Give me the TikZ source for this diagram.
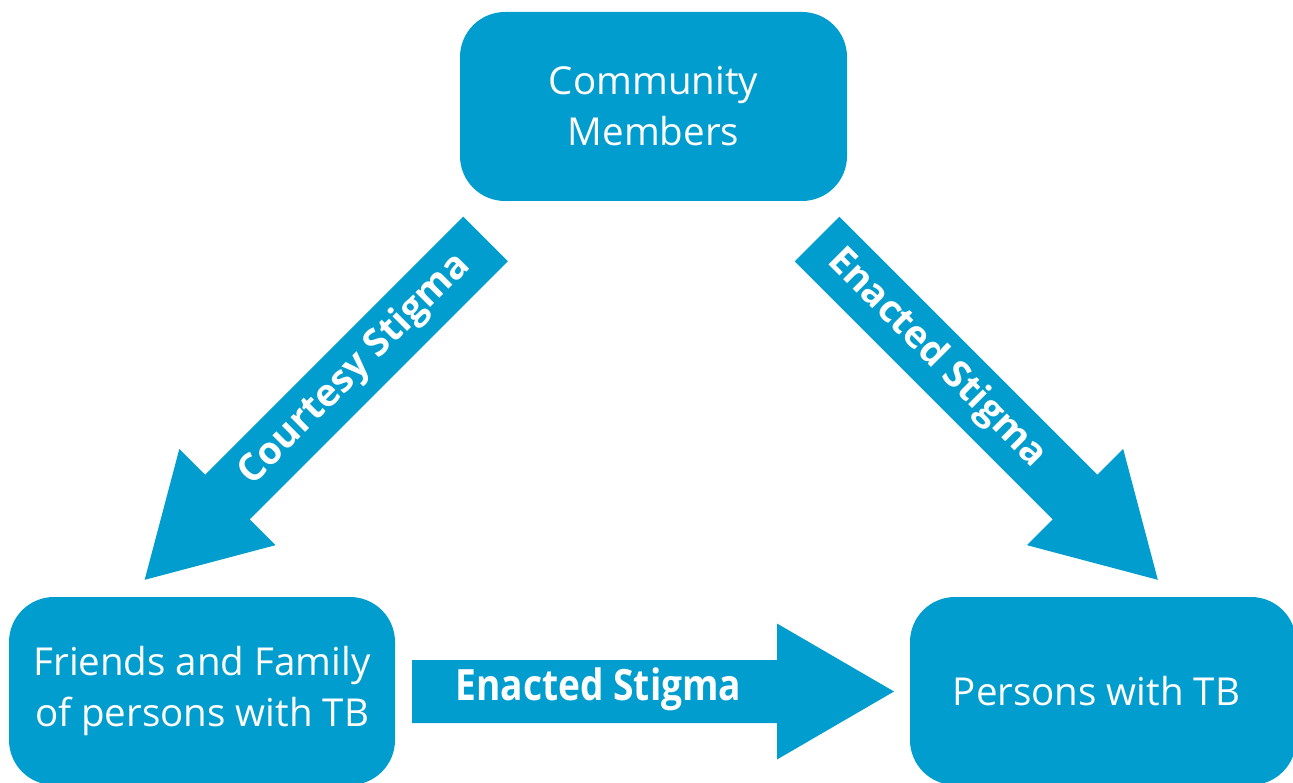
\documentclass[tikz,border=0pt]{standalone}
\usepackage{fontspec}
\setmainfont{Open Sans}
\definecolor{tbblue}{RGB}{0,157,206}
\tikzset{
  box/.style={fill=tbblue, rounded corners=45pt, inner sep=0pt, align=center,
    text=white, font=\fontsize{38.5}{51}\selectfont},
  arrowlabel/.style={text=white, inner sep=0pt, font=\bfseries\fontsize{38}{40}\selectfont},
  blockarrow/.pic={
    \fill[tbblue] (0,-31.5) -- (365,-31.5) -- (365,-68) -- (482,0) -- (365,68)
      -- (365,31.5) -- (0,31.5) -- cycle;
  }
}
\begin{document}
\begin{tikzpicture}[x=1pt, y=-1pt]
\useasboundingbox (0,0) rectangle (1293,783);
\clip (0,0) rectangle (1293,783);
% boxes
\node[box, minimum width=387pt, minimum height=189pt] (cm) at (653.5,106.5) {Community\\Members};
\node[box, minimum width=386pt, minimum height=188pt] (ff) at (202,691) {Friends and Family\\of persons with TB};
\node[box, minimum width=386pt, minimum height=188pt] (tb) at (1103,691) {Persons with TB\hspace*{13pt}};
% arrow anchors
\coordinate (a1) at (485.5,239);
\coordinate (a2) at (817,239);
\coordinate (a3) at (412,691.5);
% block arrows
\pic[rotate=225] at (a1) {blockarrow};
\pic[rotate=-45] at (a2) {blockarrow};
\pic at (a3) {blockarrow};
% labels
\node[arrowlabel, rotate=45] (l1) at (354.7,369.8) {Courtesy Stigma};
\node[arrowlabel, rotate=-45] (l2) at (936.5,358.5) {Enacted Stigma};
\node[arrowlabel, xscale=0.99, yscale=1.15, font=\bfseries\fontsize{37.5}{40}\selectfont] (l3) at (598.5,689.5) {Enacted Stigma};
\end{tikzpicture}
\end{document}
